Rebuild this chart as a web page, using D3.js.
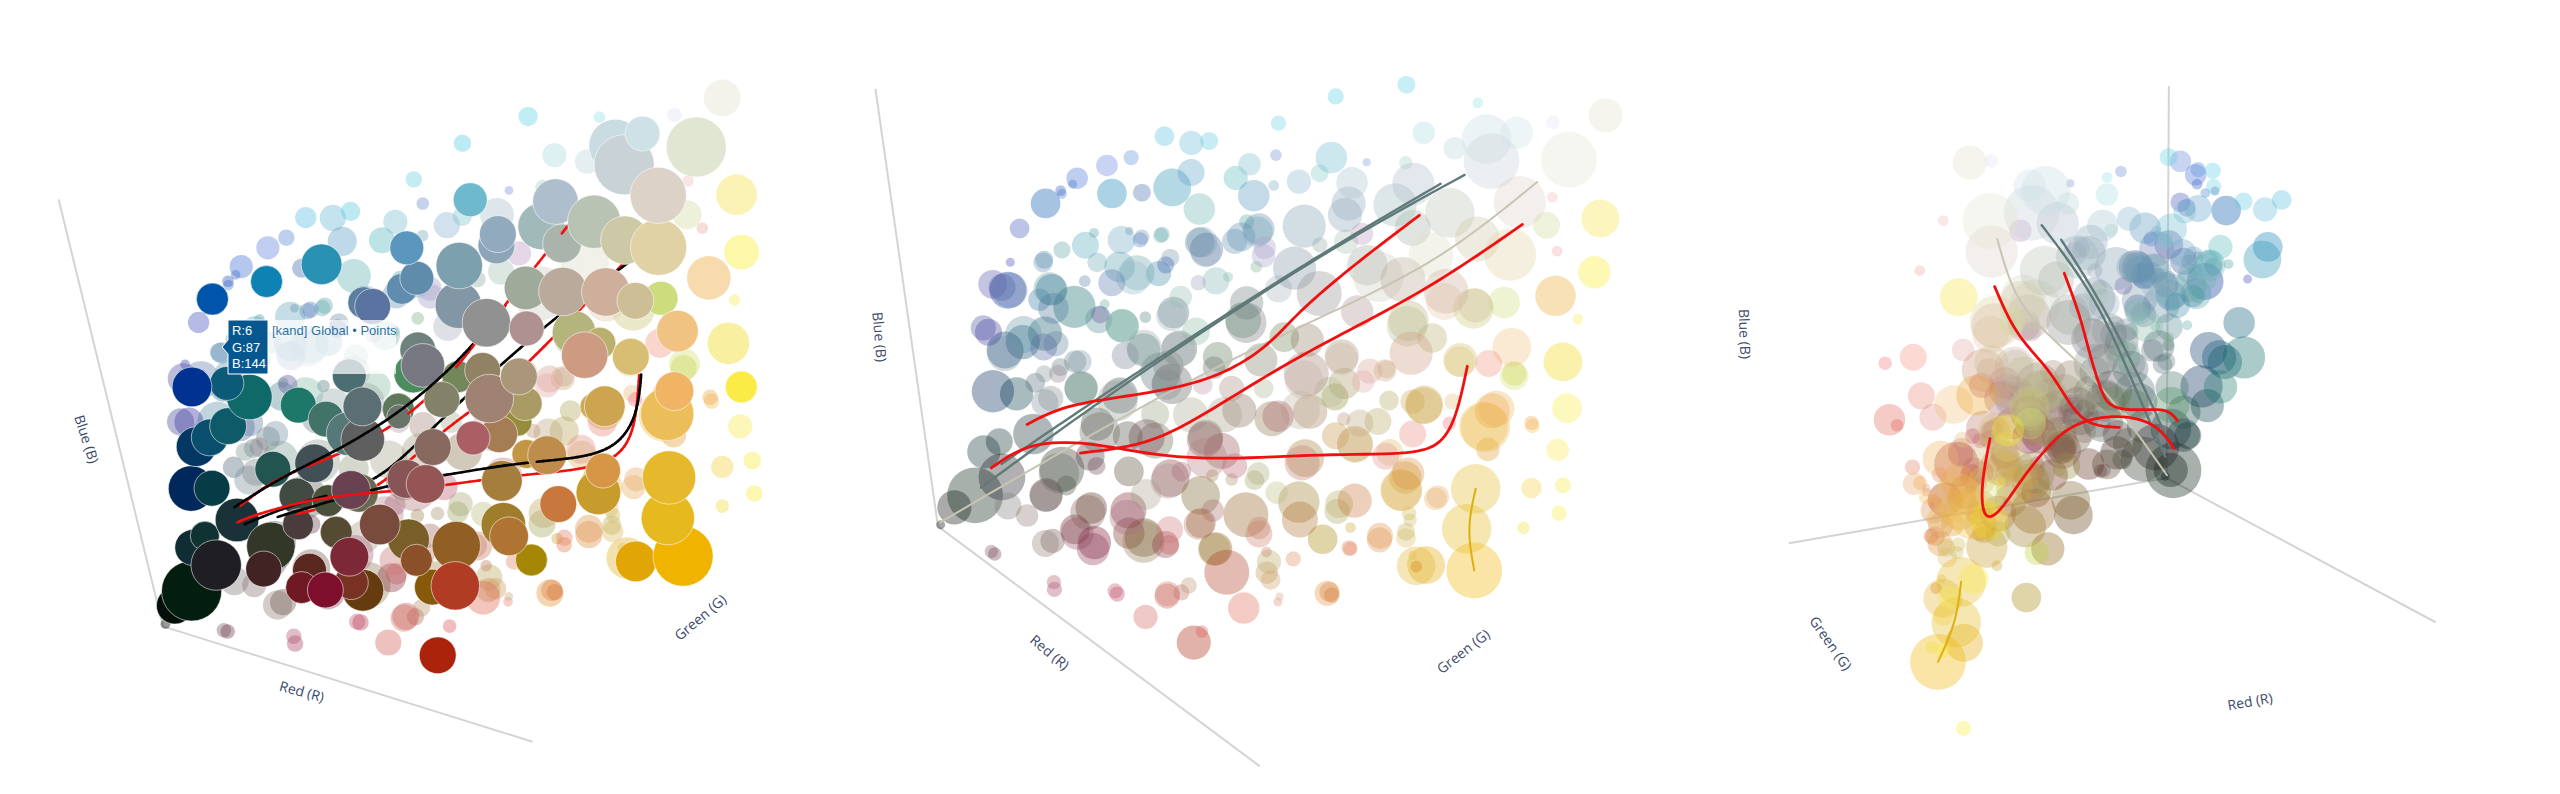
<!DOCTYPE html><html><head><meta charset="utf-8"><title>RGB colour space, three views</title><script src="https://cdn.jsdelivr.net/npm/d3@7"></script>
<style>html,body{margin:0;background:#fff}svg{display:block}</style></head><body><svg id="chart" width="2560" height="794"></svg>
<script>
// every row: red, green, blue, marker size, then the hue
const solidPoints=[[5,13,11,38,5,15,10],[12,27,16,62,3,30,15],[32,35,38,52,30,30,35],[12,39,45,37,15,45,50],[37,61,58,45,25,50,55],[16,50,48,30,15,50,50],[59,62,41,50,50,55,40],[66,40,40,37,65,35,35],[80,65,61,32,75,60,60],[96,80,48,33,85,75,50],[93,50,39,35,90,40,30],[101,27,44,33,110,25,35],[122,20,53,37,125,15,45],[120,51,36,35,120,50,35],[115,70,15,43,100,60,15],[125,45,61,40,125,40,55],[126,79,61,42,120,75,60],[131,99,37,43,120,95,40],[145,81,38,33,140,80,40],[157,103,36,50,145,95,35],[184,50,52,50,175,60,35],[145,95,8,37,135,90,10],[179,140,5,33,165,135,5],[172,126,38,46,160,125,45],[182,112,42,40,175,115,50],[170,131,64,42,165,125,60],[203,122,61,38,200,120,60],[189,141,77,40,190,140,75],[177,144,74,30,195,150,70],[206,157,45,46,200,155,45],[213,147,67,36,215,150,70],[203,171,89,42,205,165,80],[198,170,89,27,205,170,85],[209,184,110,38,215,190,115],[228,181,42,55,230,185,45],[230,176,20,55,230,185,30],[239,172,0,62,240,180,0],[222,161,0,42,225,165,5],[227,180,81,55,235,190,90],[232,175,98,40,240,180,100],[228,186,124,43,240,195,130],[207,218,121,35,205,220,125],[210,186,140,38,205,190,150],[203,173,153,50,205,175,155],[213,201,159,58,225,210,165],[200,198,165,50,205,200,165],[213,200,186,58,220,210,200],[188,195,177,55,185,195,180],[178,185,172,40,170,180,170],[176,184,195,47,175,190,205],[168,186,181,48,160,185,185],[197,204,200,62,200,210,215],[201,212,210,36,205,225,230],[192,207,208,55,200,220,225],[220,218,198,62,225,230,210],[128,197,191,35,110,185,205],[154,172,186,38,145,170,190],[154,170,181,38,140,165,185],[137,165,173,48,125,160,175],[142,152,158,48,130,150,165],[156,152,148,50,145,145,145],[166,173,155,45,160,170,155],[185,170,155,50,185,170,155],[178,148,148,36,175,145,145],[184,182,124,45,180,180,125],[195,184,117,33,185,175,110],[202,154,130,48,205,155,130],[115,155,190,35,90,150,190],[119,155,172,35,95,140,170],[114,148,170,32,95,140,175],[98,136,169,33,90,125,160],[106,131,170,37,90,115,160],[55,168,173,42,40,145,180],[32,144,177,33,15,130,180],[24,97,195,33,0,85,170],[17,68,152,41,0,50,145],[18,104,131,35,10,90,120],[24,117,113,47,15,105,105],[14,80,106,38,10,80,110],[20,94,106,38,15,90,105],[12,66,108,41,5,55,100],[9,55,82,47,0,40,90],[15,70,73,37,5,60,70],[49,93,78,37,35,85,80],[50,130,101,37,30,120,105],[75,119,101,37,65,115,105],[94,110,99,45,85,120,120],[101,117,114,40,90,110,115],[89,127,127,35,75,110,115],[122,144,135,37,110,130,125],[132,130,135,45,120,120,130],[106,165,105,40,75,140,95],[111,137,100,33,95,120,90],[119,123,105,25,105,115,105],[106,105,100,45,95,95,95],[80,92,88,40,65,80,85],[71,82,69,37,65,75,65],[87,90,63,33,75,80,60],[113,75,86,40,105,65,80],[114,81,80,40,105,105,80],[139,90,88,40,135,85,85],[151,88,88,40,150,85,85],[144,111,96,38,135,105,95],[171,103,111,35,170,95,100],[137,137,109,37,130,130,105],[135,159,109,33,115,135,90],[165,133,115,50,160,130,115],[154,149,121,37,145,130,100],[172,150,118,38,170,150,120],[172,155,98,35,170,155,100],[169,133,93,38,165,125,85],[164,162,81,30,150,140,60],[185,24,21,38,170,35,10],[238,228,66,33,250,235,70]];
const paleRows=[[228,221,218,38,225,225,205],[146,222,219,20,100,210,230],[176,227,212,12,150,225,225],[215,209,219,15,225,225,240],[118,212,214,18,90,205,230],[165,207,206,25,170,220,225],[181,204,203,25,190,215,215],[229,190,198,12,240,190,190],[102,191,208,17,110,205,225],[162,169,211,9,120,150,215],[127,153,216,13,110,140,210],[161,203,192,15,165,210,200],[151,178,193,35,170,195,205],[127,190,186,20,130,200,200],[131,167,195,27,140,180,210],[102,169,197,25,125,190,210],[73,175,201,20,95,200,220],[61,176,197,27,105,185,215],[47,171,201,22,90,190,225],[63,124,217,17,90,140,215],[62,106,222,24,100,130,220],[47,99,215,24,70,115,215],[41,92,210,12,55,90,190],[38,105,206,10,60,110,190],[81,150,198,30,95,160,200],[88,178,181,27,90,185,190],[80,159,171,35,105,180,180],[70,124,198,20,70,110,175],[117,168,189,12,120,170,190],[215,223,162,30,210,220,160],[238,183,179,12,235,170,160],[235,221,172,42,245,225,70],[228,246,128,36,248,235,40],[228,215,134,45,235,165,50],[229,239,107,12,245,235,90],[231,230,89,43,240,215,20],[244,214,53,25,248,235,80],[249,216,32,18,245,235,60],[243,200,38,23,245,205,70],[246,228,3,17,248,235,60],[247,192,20,14,240,220,60],[243,186,86,16,245,190,90],[222,208,91,32,215,225,120],[235,153,139,30,240,150,130],[227,147,59,25,230,180,100],[221,139,35,22,220,190,100],[218,121,45,28,220,150,80],[215,102,51,16,225,130,80],[213,92,27,22,215,130,70],[215,91,27,17,215,120,60],[190,131,39,28,170,170,100],[194,138,25,12,200,170,60],[207,59,41,10,230,140,120],[216,18,76,35,225,110,90],[182,87,22,25,190,150,90],[186,79,46,12,195,130,100],[157,39,61,22,200,90,90],[154,43,67,30,205,120,120],[166,38,33,18,185,110,100],[165,28,39,28,210,120,110],[162,14,30,27,210,100,90],[207,0,67,14,220,90,90],[151,3,50,17,200,90,110],[108,0,27,16,180,90,110],[54,0,14,15,130,90,100],[93,10,40,30,150,125,120],[76,13,49,25,140,120,115],[64,9,52,30,130,125,125],[156,113,58,25,170,170,120],[179,82,56,25,200,130,100],[189,166,88,22,180,170,100],[190,141,91,30,190,170,130],[217,117,101,30,225,150,140],[193,138,126,28,215,165,150],[193,152,118,20,200,170,140],[187,132,98,15,190,150,120],[224,123,114,30,235,140,130],[218,165,102,18,230,190,130],[177,146,191,25,190,155,195],[153,175,163,27,170,195,180],[146,165,165,17,150,170,170],[142,140,153,30,170,180,190],[139,131,181,25,170,160,200],[110,168,139,13,130,180,140],[69,125,170,17,110,155,175],[68,142,161,17,110,175,170],[62,123,173,9,100,140,160],[88,125,163,20,120,150,170],[77,108,157,38,150,185,200],[35,81,169,22,110,150,190],[34,65,200,22,70,85,190],[0,88,154,10,60,70,185],[29,45,174,32,90,85,165],[26,37,148,28,75,80,155],[81,76,154,20,100,90,155],[77,118,125,13,90,130,130],[61,76,114,25,110,130,140],[50,75,106,20,100,130,130],[43,60,101,22,85,110,125],[60,50,101,30,130,145,155],[150,99,60,14,170,150,110],[138,99,56,14,160,140,90],[218,146,40,15,210,190,100],[225,140,25,10,220,190,90],[2,1,2,10,3,3,3]];
const paleRowsMore=[[38,96,205,11,70,130,210],[27,90,163,20,70,130,160],[35,97,168,19,100,160,170],[43,108,167,30,90,170,190],[39,120,167,11,80,160,170],[55,104,162,22,110,170,180],[65,113,174,31,110,170,195],[82,108,182,17,90,130,200],[73,137,166,17,100,170,180],[59,118,152,34,90,160,170],[73,116,154,39,110,165,175],[78,128,148,28,70,140,170],[93,115,166,19,60,100,180],[74,94,161,30,90,120,175],[58,90,159,13,90,130,170],[57,107,133,11,100,170,160],[38,82,152,36,100,160,170],[33,78,145,25,60,120,160],[47,75,146,34,80,120,160],[40,48,172,39,110,130,180],[25,56,164,30,60,90,160],[38,30,154,30,60,60,160],[45,35,139,39,120,150,170],[41,55,138,41,100,150,170],[58,54,137,30,90,110,160],[59,63,134,28,100,130,160],[74,66,126,26,120,150,165],[62,96,131,30,90,140,150],[78,97,133,36,140,190,175],[99,120,145,25,150,190,180],[108,101,148,34,160,180,190],[107,123,124,31,140,190,170],[118,109,167,17,160,160,190],[108,137,148,30,130,180,180],[106,150,142,11,130,190,170],[107,129,170,34,140,170,190],[98,138,168,34,130,180,190],[111,147,167,28,100,150,180],[119,154,171,34,120,170,190],[140,129,178,26,160,160,200],[98,175,159,17,90,170,160],[92,83,127,30,120,130,150],[99,90,131,39,150,170,170],[115,98,131,39,160,170,170],[108,99,117,34,130,130,130],[111,94,109,34,130,140,140],[109,87,92,31,150,160,130],[129,91,99,39,170,170,145],[98,69,108,45,150,160,150],[75,65,109,37,130,160,150],[69,46,111,28,130,140,140],[61,50,122,19,130,150,150],[72,50,127,20,140,130,140],[144,80,133,22,190,150,170],[143,105,114,28,170,140,130],[149,123,105,22,170,180,150],[143,100,100,39,170,160,140],[151,129,82,39,140,120,80],[173,118,106,43,190,180,160],[172,120,123,43,200,180,170],[173,141,102,34,180,190,150],[179,138,127,36,200,180,160],[200,121,134,25,230,170,170],[193,151,118,25,210,170,130],[189,172,129,45,190,190,150],[204,171,149,41,230,200,170],[201,204,124,45,200,200,120],[206,190,104,34,220,210,120],[212,231,73,27,190,210,60],[191,179,165,50,220,220,200],[178,162,159,56,205,205,195],[57,0,14,15,110,60,80],[108,0,21,17,170,70,110],[155,0,53,17,190,70,100],[171,20,48,28,200,100,90],[169,40,39,18,190,150,110],[207,60,44,9,210,170,130],[211,94,23,28,230,150,60],[203,75,56,17,225,140,100],[194,72,37,22,210,160,100],[184,85,33,27,190,170,100],[159,74,33,36,170,140,80],[187,70,66,30,200,130,110],[157,63,58,34,180,130,100],[165,63,73,25,170,110,110],[150,45,52,30,140,60,70],[132,49,39,47,150,130,90],[142,24,82,39,170,110,130],[133,50,74,34,170,160,140],[148,49,93,39,180,140,150],[150,57,95,22,170,100,120],[130,10,61,36,140,60,90],[116,13,61,36,140,90,100],[94,15,39,27,110,90,80],[106,33,56,39,130,100,90],[87,19,67,36,120,110,110],[77,41,63,45,100,110,100],[70,54,40,22,70,80,60],[101,47,78,20,110,70,90],[88,65,83,45,110,105,100],[130,103,76,39,120,100,80],[153,73,95,45,180,130,130],[172,69,103,28,190,100,120],[154,113,52,22,160,170,100],[173,104,61,25,190,190,130],[185,104,88,39,190,130,110],[222,88,67,17,230,130,100],[195,123,53,31,190,170,100],[220,117,52,29,225,150,80],[221,138,40,20,200,180,90],[234,134,74,25,235,170,110],[214,142,60,45,230,190,100],[208,155,56,36,210,150,50],[203,147,75,30,220,190,110],[193,134,83,39,210,180,120],[191,155,83,30,190,170,100],[199,179,81,41,200,170,70],[240,119,131,15,245,120,130],[223,187,75,54,240,190,70],[227,183,89,39,235,170,70],[230,180,69,26,225,160,50],[244,182,91,16,240,170,80],[226,143,16,43,225,180,50],[228,139,20,13,210,130,20],[217,146,44,16,210,190,90]];
// trend curves through the colour cube
const redCurvesFirst=[[[82,0,108],[80,18,100],[121,26,116],[142,65,97],[154,97,81],[166,155,51],[183,198,28],[196,206,35],[195,221,45],[191,233,66]],[[97,41,89],[90,101,54],[76,173,17],[75,255,7],[114,255,39],[193,249,143]],[[61,35,92],[81,48,108],[97,94,95],[131,106,115],[139,136,120],[145,154,129],[149,192,138],[191,164,194]]];
const blackCurves=[[[79,4,116],[103,24,129],[128,46,136],[139,89,132],[144,126,131],[133,180,115],[127,228,109]],[[71,22,89],[96,45,95],[68,168,17],[84,188,31],[77,255,18],[139,255,85],[187,239,131]],[[82,42,83],[118,92,77],[162,102,88],[184,129,80],[207,144,76],[219,152,81],[214,180,80],[211,190,96]]];
const redCurves=[[[19,38,36],[42,51,61],[81,63,74],[117,75,75],[145,99,71],[177,135,68],[202,163,62],[213,173,66],[215,178,84],[212,185,107]],[[76,61,64],[109,81,74],[131,100,94],[159,135,123],[193,173,148],[214,204,173]],[[32,61,63],[50,77,77],[89,103,86],[119,125,96],[135,145,111],[145,152,132],[160,172,154],[177,191,175]]];
const greyCurves=[[[190,198,195],[146,163,160],[79,86,94],[19,27,27]],[[181,197,189],[142,162,156],[74,93,90],[25,42,40]]];
const beigeCurves=[[[214,209,191],[198,184,167],[175,162,147],[116,109,108],[1,2,3]]];
const goldCurves=[[[239,172,0],[230,176,20],[228,181,42]]];
const hovered=[6,87,144];
const traceName="[kand] Global • Points";
const axisNames=["Red (R)","Green (G)","Blue (B)"];

const views=[
 {cam:[163.0,626.4,550.7,747.4,342.4,421.2,83.5,301.1,0.740,0.985,0.853],axes:[246,0,320],k:.485,
  labels:[[0,302,691,15],[1,700,617,-40],[2,87,439,72]]},
 {cam:[938.0,526.4,1284.1,784.4,1186.0,330.8,889.1,184.5,0.705,1.041,0.812],axes:[242,0,310],k:.45,
  labels:[[0,1050,652,40],[1,1463,651,-38],[2,880,337,85]]},
 {cam:[2166.6,478.1,1833.9,535.4,2462.2,636.5,2168.7,116.3,0.857,0.632,0.896],axes:[284,240,274],k:.45,
  labels:[[1,1831,643,55],[0,2250,701,-10],[2,1745,334,88]]}];
const unit=d3.scaleLinear().domain([0,255]).range([0,1]);
function project(c,v){const [r,g,b]=v.map(unit);const [ox,oy,rx,ry,gx,gy,bx,by,wr,wg,wb]=c;
 const W=1+r*(wr-1)+g*(wg-1)+b*(wb-1);
 return [ox+(r*wr*(rx-ox)+g*wg*(gx-ox)+b*wb*(bx-ox))/W,oy+(r*wr*(ry-oy)+g*wg*(gy-oy)+b*wb*(by-oy))/W,W];}
const rows2pts=(rows,solid)=>rows.map(r=>({v:r.slice(0,3),n:r[3],fill:`rgb(${r[4]},${r[5]},${r[6]})`,solid}));
const allPts=[...rows2pts(solidPoints,true),...rows2pts(paleRows,false),...rows2pts(paleRowsMore,false)];
const sample=(l,n=70)=>{const f=[0,1,2].map(k=>d3.interpolateBasis(l.map(v=>v[k])));return d3.range(n+1).map(i=>f.map(h=>h(i/n)));};
const line=d3.line();
const svg=d3.select('#chart');
views.forEach((view,i)=>{
 const g=svg.append('g'),c=view.cam;
 const size=d3.scaleLinear().domain([0,62]).range([0,62*view.k]);
 const O=project(c,[0,0,0]);
 view.axes.forEach((t,a)=>{if(!t)return;const v=[0,0,0];v[a]=t;const e=project(c,v);
  g.append('line').attr('x1',O[0]).attr('y1',O[1]).attr('x2',e[0]).attr('y2',e[1]).attr('stroke','#d4d4d4').attr('stroke-width',2);});
 const P=allPts.map(p=>{const q=project(c,p.v);return {...p,x:q[0],y:q[1],W:q[2],kind:'dot'};});
 const dot=s=>s.attr('cx',d=>d.x).attr('cy',d=>d.y).attr('r',d=>size(d.n)).attr('fill',d=>d.fill);
 const curve=(L,col,w)=>L.forEach(l=>g.append('path').attr('d',line(sample(l).map(v=>project(c,v).slice(0,2)))).attr('fill','none').attr('stroke',col).attr('stroke-width',w).attr('stroke-linecap','round'));
 if(i===0){
  dot(g.append('g').selectAll('circle').data(P.filter(d=>!d.solid).sort((a,b)=>b.W-a.W)).join('circle')).attr('fill-opacity',.4);
  const segs=[];
  [[redCurvesFirst,'#ee1111',.015],[blackCurves,'#050505',0]].forEach(([L,col,b])=>L.forEach(l=>{const s=sample(l).map(v=>project(c,v));
   d3.pairs(s).forEach(([p,q])=>segs.push({kind:'seg',a:p,b:q,W:p[2]+b,col}));}));
  [...P.filter(d=>d.solid),...segs].sort((a,b)=>b.W-a.W).forEach(d=>{
   if(d.kind==='dot')dot(g.append('circle').datum(d)).attr('stroke','rgba(255,255,255,.55)').attr('stroke-width',1);
   else g.append('path').attr('d',line([d.a.slice(0,2),d.b.slice(0,2)])).attr('stroke',d.col).attr('stroke-width',2.6).attr('stroke-linecap','round');});
 } else {
  dot(g.append('g').selectAll('circle').data(P.sort((a,b)=>b.W-a.W)).join('circle')).attr('fill-opacity',.35);
  curve(greyCurves,'#5f7a78',2.4);curve(beigeCurves,'#c8c4b4',2);curve(goldCurves,'#dfae10',2);curve(redCurves,'#f01010',2.8);
 }
 view.labels.forEach(([a,x,y,rot])=>g.append('text').attr('transform',`translate(${x},${y}) rotate(${rot})`).attr('text-anchor','middle').attr('dominant-baseline','central').attr('font-family','"Open Sans"').attr('font-size',14).attr('fill','#3b4a6b').text(axisNames[a]));
});
// hover label of the first view
const tip=svg.append('g');const hoverColor=`rgb(${hovered.join(',')})`;
tip.append('rect').attr('x',268).attr('y',320).attr('width',128).attr('height',54).attr('fill','#fff').attr('fill-opacity',.72);
tip.append('path').attr('d','M228 320H268V374H228V354L222 347L228 340Z').attr('fill',hoverColor).attr('stroke','#fff').attr('stroke-width',1);
["R","G","B"].forEach((n,i)=>tip.append('text').attr('x',232).attr('y',335+i*16.5).attr('font-family','"Liberation Sans"').attr('font-size',13).attr('fill','#fff').text(`${n}:${hovered[i]}`));
tip.append('text').attr('x',272).attr('y',335).attr('font-family','"Liberation Sans"').attr('font-size',13).attr('fill',hoverColor).attr('fill-opacity',.85).text(traceName);
</script></body></html>
